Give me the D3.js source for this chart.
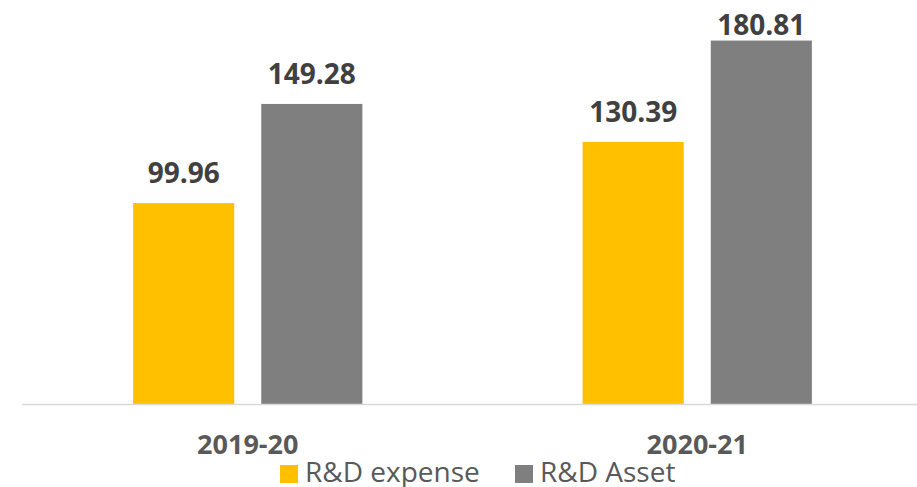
<html>
  <head>
    <meta charset="UTF-8">
    <title>R&amp;D expense vs asset</title>
    <style type="text/css">
      body { margin: 0; background-color: #fff; }
      svg { display: block; }
      .valLabel { fill: #404040; font-family: "Open Sans", sans-serif; font-weight: bold; font-size: 28px; }
      .catLabel { fill: #595959; font-family: "Open Sans", sans-serif; font-weight: bold; font-size: 27px; }
      .legText { fill: #595959; font-family: "Open Sans", sans-serif; font-size: 28px; }
    </style>
    <script src="https://cdn.jsdelivr.net/npm/d3@7"></script>
  </head>
  <body>
    <div id="chart"></div>
    <script type="text/javascript">
      var years = ["2019-20", "2020-21"];
      var seriesNames = ["R&D expense", "R&D Asset"];
      var expense = [99.96, 130.39];
      var asset = [149.28, 180.81];
      var colors = ["#FFC000", "#7F7F7F"];

      var width = 917, height = 487, baseY = 404;

      var svg = d3.select("#chart").append("svg")
        .attr("width", width).attr("height", height);

      // build rows from the arrays
      var data = years.map(function(y, i) {
        return { year: y, values: [expense[i], asset[i]] };
      });

      var x0 = d3.scaleBand().domain(years).range([23, 922]).paddingInner(0.49).paddingOuter(0.245);
      var x1 = d3.scaleBand().domain(seriesNames).range([0, x0.bandwidth()]).paddingInner(0.211);
      var y = d3.scaleLinear().domain([0, 200]).range([baseY, 2]);

      var groups = svg.selectAll(".grp").data(data).enter().append("g")
        .attr("class", "grp")
        .attr("transform", function(d) { return "translate(" + x0(d.year) + ",0)"; });

      groups.selectAll("rect").data(function(d) { return d.values; }).enter().append("rect")
        .attr("x", function(d, i) { return x1(seriesNames[i]); })
        .attr("y", function(d) { return y(d); })
        .attr("width", x1.bandwidth())
        .attr("height", function(d) { return baseY - y(d); })
        .attr("fill", function(d, i) { return colors[i]; });

      // labels sit above bars, but the tallest one gets pushed down to stay inside
      groups.selectAll(".valLabel").data(function(d) { return d.values; }).enter().append("text")
        .attr("class", "valLabel")
        .attr("x", function(d, i) { return x1(seriesNames[i]) + x1.bandwidth() / 2; })
        .attr("y", function(d) { return Math.max(y(d) - 20, 35); })
        .attr("text-anchor", "middle")
        .text(function(d) { return d.toFixed(2); });

      // axis line
      svg.append("line").attr("x1", 22).attr("x2", width).attr("y1", baseY + 0.5).attr("y2", baseY + 0.5)
        .attr("stroke", "#d9d9d9").attr("stroke-width", 1.5);

      svg.selectAll(".catLabel").data(years).enter().append("text")
        .attr("class", "catLabel")
        .attr("x", function(d) { return x0(d) + x0.bandwidth() / 2; })
        .attr("y", 454)
        .attr("text-anchor", "middle")
        .text(function(d) { return d; });

      // legend
      var legX = [280, 515];
      var leg = svg.selectAll(".leg").data(seriesNames).enter().append("g")
        .attr("class", "leg")
        .attr("transform", function(d, i) { return "translate(" + legX[i] + ",465)"; });
      leg.append("rect").attr("width", 18).attr("height", 18)
        .attr("fill", function(d, i) { return colors[i]; });
      leg.append("text").attr("class", "legText")
        .attr("x", 25).attr("y", 17)
        .text(function(d) { return d; });
    </script>
  </body>
</html>
